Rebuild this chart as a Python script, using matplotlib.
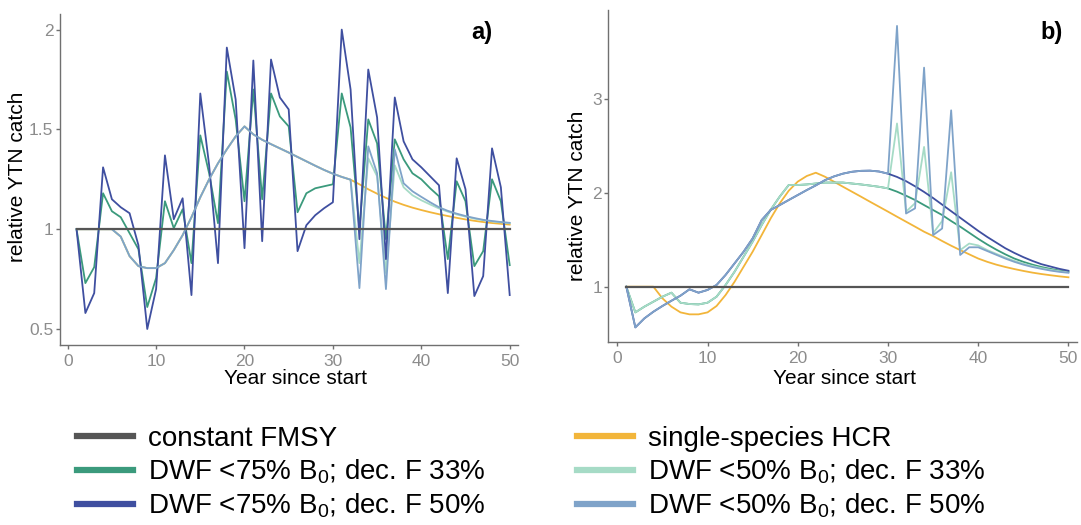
import matplotlib
matplotlib.use("Agg")
import matplotlib.pyplot as plt

plt.rcParams["font.family"] = ["Liberation Sans", "DejaVu Sans"]
plt.rcParams["mathtext.default"] = "regular"

# ---------- data ----------
years = list(range(1, 51))

constant_fmsy = [1.0] * 50

# panel a
a_single = [1.0, 1.0, 1.0, 1.0, 1.0, 0.963, 0.865, 0.815, 0.805, 0.805,
            0.83, 0.895, 0.97, 1.06, 1.16, 1.25, 1.33, 1.40, 1.465, 1.515,
            1.475, 1.448, 1.426, 1.405, 1.384, 1.362, 1.34, 1.318, 1.297, 1.278,
            1.262, 1.248, 1.225, 1.20, 1.178, 1.157, 1.138, 1.122, 1.108, 1.096,
            1.085, 1.075, 1.066, 1.057, 1.049, 1.042, 1.036, 1.031, 1.027, 1.023]
a_dwf75_f33 = [1.0, 0.73, 0.81, 1.18, 1.09, 1.06, 0.98, 0.90, 0.61, 0.755,
               1.14, 1.005, 1.10, 0.83, 1.47, 1.28, 1.03, 1.79, 1.55, 1.14,
               1.70, 1.15, 1.68, 1.565, 1.515, 1.085, 1.18, 1.205, 1.215, 1.225,
               1.68, 1.51, 1.00, 1.55, 1.43, 0.95, 1.45, 1.35, 1.28, 1.25,
               1.205, 1.165, 0.85, 1.24, 1.14, 0.815, 0.89, 1.25, 1.14, 0.82]
a_dwf75_f50 = [1.0, 0.58, 0.68, 1.31, 1.15, 1.11, 1.08, 0.92, 0.50, 0.70,
               1.37, 1.05, 1.155, 0.67, 1.68, 1.32, 0.83, 1.91, 1.65, 0.905,
               1.845, 0.94, 1.85, 1.66, 1.60, 0.89, 1.02, 1.07, 1.105, 1.135,
               2.00, 1.70, 0.95, 1.80, 1.56, 0.85, 1.66, 1.44, 1.35, 1.31,
               1.265, 1.22, 0.68, 1.355, 1.20, 0.665, 0.765, 1.405, 1.21, 0.67]
a_dwf50_f33 = [1.0, 1.0, 1.0, 1.0, 1.0, 0.963, 0.865, 0.815, 0.805, 0.805,
               0.83, 0.895, 0.97, 1.06, 1.16, 1.25, 1.33, 1.40, 1.465, 1.515,
               1.475, 1.448, 1.426, 1.405, 1.384, 1.362, 1.34, 1.318, 1.297, 1.278,
               1.262, 1.248, 0.83, 1.355, 1.265, 0.78, 1.32, 1.21, 1.17, 1.145,
               1.124, 1.104, 1.088, 1.074, 1.063, 1.053, 1.045, 1.039, 1.034, 1.030]
a_dwf50_f50 = [1.0, 1.0, 1.0, 1.0, 1.0, 0.963, 0.865, 0.815, 0.805, 0.805,
               0.83, 0.895, 0.97, 1.06, 1.16, 1.25, 1.33, 1.40, 1.465, 1.515,
               1.475, 1.448, 1.426, 1.405, 1.384, 1.362, 1.34, 1.318, 1.297, 1.278,
               1.262, 1.248, 0.705, 1.415, 1.28, 0.70, 1.40, 1.23, 1.19, 1.162,
               1.135, 1.11, 1.092, 1.078, 1.066, 1.056, 1.047, 1.041, 1.036, 1.032]

# panel b
b_single = [1.0, 1.0, 1.0, 1.0, 0.876, 0.787, 0.726, 0.705, 0.705, 0.726,
            0.794, 0.911, 1.053, 1.213, 1.373, 1.55, 1.728, 1.888, 2.023, 2.12,
            2.18, 2.215, 2.173, 2.12, 2.066, 2.013, 1.96, 1.906, 1.853, 1.80,
            1.746, 1.693, 1.64, 1.586, 1.54, 1.487, 1.437, 1.39, 1.345, 1.30,
            1.265, 1.235, 1.21, 1.188, 1.168, 1.15, 1.135, 1.122, 1.11, 1.10]
b_dwf75_f33 = [1.0, 0.726, 0.787, 0.84, 0.893, 0.936, 0.829, 0.815, 0.811, 0.829,
               0.893, 1.018, 1.16, 1.32, 1.48, 1.657, 1.82, 1.96, 2.084, 2.084,
               2.09, 2.10, 2.11, 2.11, 2.11, 2.10, 2.09, 2.078, 2.065, 2.048,
               2.013, 1.97, 1.924, 1.87, 1.817, 1.764, 1.70, 1.64, 1.575, 1.51,
               1.45, 1.395, 1.345, 1.30, 1.265, 1.235, 1.21, 1.19, 1.172, 1.16]
b_dwf75_f50 = [1.0, 0.566, 0.662, 0.733, 0.794, 0.85, 0.904, 0.972, 0.936, 0.965,
               1.018, 1.125, 1.249, 1.373, 1.515, 1.71, 1.818, 1.87, 1.924, 1.977,
               2.03, 2.08, 2.135, 2.175, 2.205, 2.225, 2.235, 2.237, 2.228, 2.205,
               2.17, 2.125, 2.07, 2.01, 1.945, 1.875, 1.805, 1.735, 1.665, 1.595,
               1.53, 1.47, 1.41, 1.36, 1.315, 1.275, 1.24, 1.215, 1.19, 1.17]
b_dwf50_f33 = [1.0, 0.726, 0.787, 0.84, 0.893, 0.936, 0.829, 0.815, 0.811, 0.829,
               0.893, 1.018, 1.16, 1.32, 1.48, 1.657, 1.82, 1.96, 2.084, 2.084,
               2.09, 2.10, 2.11, 2.11, 2.11, 2.10, 2.09, 2.078, 2.065, 2.048,
               2.74, 1.80, 1.89, 2.49, 1.57, 1.70, 2.22, 1.39, 1.46, 1.44,
               1.39, 1.35, 1.31, 1.275, 1.245, 1.22, 1.198, 1.18, 1.165, 1.155]
b_dwf50_f50 = [1.0, 0.566, 0.662, 0.733, 0.794, 0.85, 0.904, 0.972, 0.936, 0.965,
               1.018, 1.125, 1.249, 1.373, 1.515, 1.71, 1.818, 1.87, 1.924, 1.977,
               2.03, 2.08, 2.135, 2.175, 2.205, 2.225, 2.235, 2.237, 2.228, 2.205,
               3.78, 1.78, 1.835, 3.335, 1.55, 1.62, 2.88, 1.338, 1.42, 1.42,
               1.38, 1.34, 1.30, 1.265, 1.235, 1.21, 1.19, 1.172, 1.158, 1.148]

x_ticks = [0, 10, 20, 30, 40, 50]
a_yticks = [0.5, 1, 1.5, 2]
a_ytick_labels = ["0.5", "1", "1.5", "2"]
b_yticks = [1, 2, 3]
b_ytick_labels = ["1", "2", "3"]

series_names = ["constant FMSY", "single-species HCR",
                "DWF <75% B$_0$; dec. F 33%", "DWF <50% B$_0$; dec. F 33%",
                "DWF <75% B$_0$; dec. F 50%", "DWF <50% B$_0$; dec. F 50%"]
colors = {
    "gray": "#555555",
    "orange": "#f2b53a",
    "green": "#3b9a7c",
    "teal": "#a6dbc6",
    "navy": "#3f4fa0",
    "steel": "#7fa3c9",
}
# ----------------------------------


def style(ax):
    for s in ["top", "right"]:
        ax.spines[s].set_visible(False)
    for s in ["left", "bottom"]:
        ax.spines[s].set_color("#707070")
        ax.spines[s].set_linewidth(1.0)
    ax.tick_params(colors="#707070", labelcolor="#8c8c8c", labelsize=12.5,
                   length=3, width=1, pad=3.5)
    ax.tick_params(axis="y", pad=1.5)
    ax.set_xticks(x_ticks)


def draw(ax, single, f33_75, f33_50, f50_75, f50_50):
    lw = 1.3
    ax.plot(years, single, color=colors["orange"], lw=lw, zorder=2)
    ax.plot(years, f33_75, color=colors["green"], lw=lw, zorder=3)
    ax.plot(years, f33_50, color=colors["teal"], lw=lw, zorder=4)
    ax.plot(years, f50_75, color=colors["navy"], lw=lw, zorder=5)
    ax.plot(years, f50_50, color=colors["steel"], lw=lw, zorder=6)
    ax.plot(years, constant_fmsy, color=colors["gray"], lw=1.6, zorder=7)


fig = plt.figure(figsize=(10.81, 5.25), dpi=100)
ax_a = fig.add_axes([0.0551, 0.3429, 0.4241, 0.6304])
ax_b = fig.add_axes([0.5627, 0.348, 0.4332, 0.633])

draw(ax_a, a_single, a_dwf75_f33, a_dwf50_f33, a_dwf75_f50, a_dwf50_f50)
draw(ax_b, b_single, b_dwf75_f33, b_dwf50_f33, b_dwf75_f50, b_dwf50_f50)

for ax in (ax_a, ax_b):
    style(ax)
    ax.set_xlabel("Year since start", fontsize=15)
    ax.set_ylabel("relative YTN catch", fontsize=15)

ax_a.set_xlim(-0.92, 50.94)
ax_a.set_ylim(0.42, 2.078)
ax_a.set_yticks(a_yticks, a_ytick_labels)
ax_b.set_xlim(-1.0, 50.9)
ax_b.set_ylim(0.407, 3.95)
ax_b.set_yticks(b_yticks, b_ytick_labels)

ax_a.xaxis.set_label_coords(0.514, -0.072)
ax_b.xaxis.set_label_coords(0.504, -0.08)
ax_a.yaxis.set_label_coords(-0.071, 0.508)
ax_b.yaxis.set_label_coords(-0.045, 0.44)

ax_a.text(0.921, 0.943, "a)", transform=ax_a.transAxes, fontsize=17,
          fontweight="bold", ha="center", va="center")
ax_b.text(0.9475, 0.931, "b)", transform=ax_b.transAxes, fontsize=17,
          fontweight="bold", ha="center", va="center")

# ---- legend ----
handle_colors = [colors["gray"], colors["green"], colors["navy"],
                 colors["orange"], colors["teal"], colors["steel"]]
handle_labels = [series_names[0], series_names[2], series_names[4],
                 series_names[1], series_names[3], series_names[5]]
handles = [plt.Line2D([], [], color=c, lw=4.5) for c in handle_colors]
fig.legend(handles, handle_labels, ncol=2, loc="upper left",
           bbox_to_anchor=(0.0712, 0.189), frameon=False, fontsize=20,
           handlelength=2.0, handletextpad=0.55, columnspacing=3.3,
           labelspacing=0.21, borderpad=0, borderaxespad=0)

fig.savefig("out.png", dpi=100)
